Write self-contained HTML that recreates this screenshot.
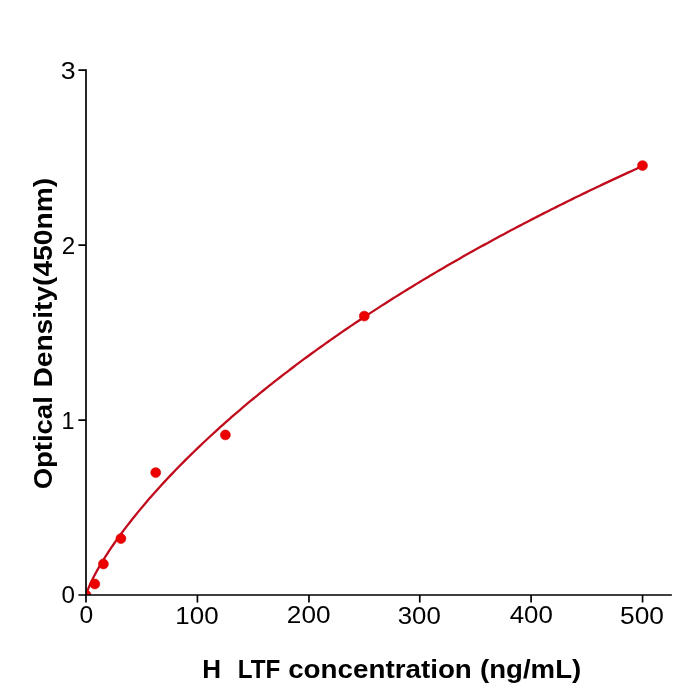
<!DOCTYPE html>
<html><head><meta charset="utf-8"><style>
html,body{margin:0;padding:0;background:#fff;width:700px;height:700px;overflow:hidden}
svg{display:block;will-change:transform}
text{font-family:"Liberation Sans",sans-serif;fill:#000;white-space:pre}
</style></head><body>
<svg width="700" height="700" viewBox="0 0 700 700">
<rect width="700" height="700" fill="#fff"/>
<defs><clipPath id="ax"><rect x="86" y="70.2" width="586" height="524.9"/></clipPath></defs>
<g clip-path="url(#ax)">
<polyline fill="none" stroke="#c00c1c" stroke-width="2.3" stroke-linejoin="round" stroke-linecap="round" points="86.00,595.90 86.12,595.22 86.23,594.72 86.35,594.27 86.47,593.85 86.59,593.45 86.70,593.06 86.82,592.69 86.94,592.33 87.05,591.98 87.17,591.64 87.29,591.30 87.41,590.97 87.52,590.65 87.64,590.33 87.76,590.01 87.87,589.70 87.99,589.40 88.11,589.09 88.23,588.80 88.23,588.80 88.57,587.95 88.91,587.12 89.24,586.32 89.58,585.53 89.92,584.76 90.26,584.00 90.60,583.25 90.94,582.52 91.28,581.80 91.62,581.08 91.96,580.38 92.30,579.68 92.64,579.00 92.98,578.32 93.32,577.65 93.66,576.98 94.00,576.32 94.34,575.67 94.68,575.02 95.02,574.38 95.36,573.74 95.70,573.11 96.04,572.49 96.38,571.87 96.71,571.25 97.05,570.64 97.39,570.03 97.73,569.43 98.07,568.83 98.41,568.23 98.75,567.64 99.09,567.05 99.43,566.46 99.77,565.88 100.11,565.30 100.45,564.73 100.79,564.16 101.13,563.59 101.47,563.02 101.81,562.46 102.15,561.90 102.49,561.34 102.83,560.78 103.17,560.23 103.51,559.68 103.85,559.14 104.19,558.59 104.52,558.05 104.86,557.51 105.20,556.97 105.54,556.44 105.88,555.90 106.22,555.37 106.56,554.84 106.90,554.32 107.24,553.79 107.58,553.27 107.92,552.75 108.26,552.23 108.26,552.23 110.94,548.19 113.63,544.27 116.31,540.43 119.00,536.69 121.68,533.02 124.37,529.43 127.05,525.90 129.74,522.43 132.42,519.02 135.11,515.67 137.79,512.36 140.48,509.11 143.16,505.90 145.84,502.73 148.53,499.61 151.21,496.52 153.90,493.48 156.58,490.47 159.27,487.49 161.95,484.55 164.64,481.64 167.32,478.76 170.01,475.91 172.69,473.09 175.38,470.30 178.06,467.54 180.74,464.80 183.43,462.09 186.11,459.40 188.80,456.74 191.48,454.10 194.17,451.48 196.85,448.89 199.54,446.32 202.22,443.76 204.91,441.23 207.59,438.72 210.28,436.23 212.96,433.76 215.64,431.31 218.33,428.88 221.01,426.46 223.70,424.06 226.38,421.68 229.07,419.32 231.75,416.97 234.44,414.64 237.12,412.33 239.81,410.03 242.49,407.74 245.18,405.47 247.86,403.22 250.55,400.98 253.23,398.76 255.91,396.55 258.60,394.35 261.28,392.17 263.97,390.00 266.65,387.84 269.34,385.70 272.02,383.57 274.71,381.45 277.39,379.35 280.08,377.26 282.76,375.18 285.45,373.11 288.13,371.05 290.81,369.00 293.50,366.97 296.18,364.95 298.87,362.94 301.55,360.94 304.24,358.95 306.92,356.97 309.61,355.00 312.29,353.04 314.98,351.09 317.66,349.16 320.35,347.23 323.03,345.31 325.71,343.40 328.40,341.50 331.08,339.62 333.77,337.74 336.45,335.87 339.14,334.00 341.82,332.15 344.51,330.31 347.19,328.48 349.88,326.65 352.56,324.83 355.25,323.03 357.93,321.23 360.61,319.44 363.30,317.65 365.98,315.88 368.67,314.11 371.35,312.36 374.04,310.61 376.72,308.86 379.41,307.13 382.09,305.40 384.78,303.68 387.46,301.97 390.15,300.27 392.83,298.57 395.51,296.88 398.20,295.20 400.88,293.53 403.57,291.86 406.25,290.20 408.94,288.55 411.62,286.90 414.31,285.26 416.99,283.63 419.68,282.00 422.36,280.38 425.05,278.77 427.73,277.16 430.41,275.56 433.10,273.97 435.78,272.38 438.47,270.80 441.15,269.23 443.84,267.66 446.52,266.10 449.21,264.55 451.89,263.00 454.58,261.45 457.26,259.92 459.95,258.39 462.63,256.86 465.31,255.34 468.00,253.83 470.68,252.32 473.37,250.82 476.05,249.32 478.74,247.83 481.42,246.35 484.11,244.87 486.79,243.39 489.48,241.92 492.16,240.46 494.85,239.00 497.53,237.55 500.21,236.10 502.90,234.66 505.58,233.22 508.27,231.79 510.95,230.36 513.64,228.94 516.32,227.53 519.01,226.11 521.69,224.71 524.38,223.31 527.06,221.91 529.75,220.52 532.43,219.13 535.12,217.75 537.80,216.37 540.48,215.00 543.17,213.63 545.85,212.27 548.54,210.91 551.22,209.55 553.91,208.20 556.59,206.86 559.28,205.52 561.96,204.18 564.65,202.85 567.33,201.52 570.02,200.20 572.70,198.88 575.38,197.57 578.07,196.26 580.75,194.95 583.44,193.65 586.12,192.36 588.81,191.06 591.49,189.77 594.18,188.49 596.86,187.21 599.55,185.93 602.23,184.66 604.92,183.39 607.60,182.13 610.28,180.87 612.97,179.61 615.65,178.36 618.34,177.11 621.02,175.87 623.71,174.63 626.39,173.39 629.08,172.16 631.76,170.93 634.45,169.70 637.13,168.48 639.82,167.26 642.50,166.05"/>
<g fill="#ec0000" stroke="#d00000" stroke-width="0.6">
<circle cx="86.00" cy="595.00" r="4.95"/>
<circle cx="94.80" cy="584.00" r="4.95"/>
<circle cx="103.40" cy="564.00" r="4.95"/>
<circle cx="120.90" cy="538.60" r="4.95"/>
<circle cx="155.70" cy="472.60" r="4.95"/>
<circle cx="225.40" cy="434.90" r="4.95"/>
<circle cx="364.30" cy="316.10" r="4.95"/>
<circle cx="642.50" cy="165.60" r="4.95"/>
</g>
</g>
<g stroke="#000" stroke-width="1.7" fill="none">
<path d="M86,70.2 V595.0 H671.0" stroke-linecap="square"/>
<path d="M78.4,595.0H86 M78.4,420.2H86 M78.4,245.2H86 M78.4,70.2H86"/>
<path d="M86,595.0V602.5 M197.43,595.0V602.5 M308.97,595.0V602.5 M419.77,595.0V602.5 M531.09,595.0V602.5 M642.57,595.0V602.5"/>
</g>
<text x="60.79" y="78.81" font-size="24.8" textLength="14.83" lengthAdjust="spacingAndGlyphs">3</text>
<text x="61.74" y="254.00" font-size="24.8" textLength="13.47" lengthAdjust="spacingAndGlyphs">2</text>
<text x="61.42" y="429.00" font-size="24.8" textLength="13.01" lengthAdjust="spacingAndGlyphs">1</text>
<text x="61.54" y="603.32" font-size="24.8" textLength="13.44" lengthAdjust="spacingAndGlyphs">0</text>
<text x="79.60" y="623.27" font-size="24.8" textLength="13.69" lengthAdjust="spacingAndGlyphs">0</text>
<text x="175.36" y="623.50" font-size="24.8" textLength="43.21" lengthAdjust="spacingAndGlyphs">100</text>
<text x="286.87" y="623.20" font-size="24.8" textLength="43.65" lengthAdjust="spacingAndGlyphs">200</text>
<text x="397.73" y="623.60" font-size="24.8" textLength="43.02" lengthAdjust="spacingAndGlyphs">300</text>
<text x="509.69" y="623.20" font-size="24.8" textLength="43.10" lengthAdjust="spacingAndGlyphs">400</text>
<text x="620.08" y="623.60" font-size="24.8" textLength="43.86" lengthAdjust="spacingAndGlyphs">500</text>
<text x="202.16" y="678.00" font-size="25.0" font-weight="bold" textLength="18.82" lengthAdjust="spacingAndGlyphs">H</text>
<text x="237.67" y="678.00" font-size="25.0" font-weight="bold" textLength="42.60" lengthAdjust="spacingAndGlyphs">LTF</text>
<text x="288.16" y="678.00" font-size="25.0" font-weight="bold" textLength="183.68" lengthAdjust="spacingAndGlyphs">concentration</text>
<text x="479.96" y="678.00" font-size="25.0" font-weight="bold" textLength="101.25" lengthAdjust="spacingAndGlyphs">(ng/mL)</text>
<text transform="translate(51.80,489.25) rotate(-90)" font-size="25.0" font-weight="bold" textLength="93.01" lengthAdjust="spacingAndGlyphs">Optical</text>
<text transform="translate(51.80,387.62) rotate(-90)" font-size="25.0" font-weight="bold" textLength="209.69" lengthAdjust="spacingAndGlyphs">Density(450nm)</text>
</svg>
</body></html>
